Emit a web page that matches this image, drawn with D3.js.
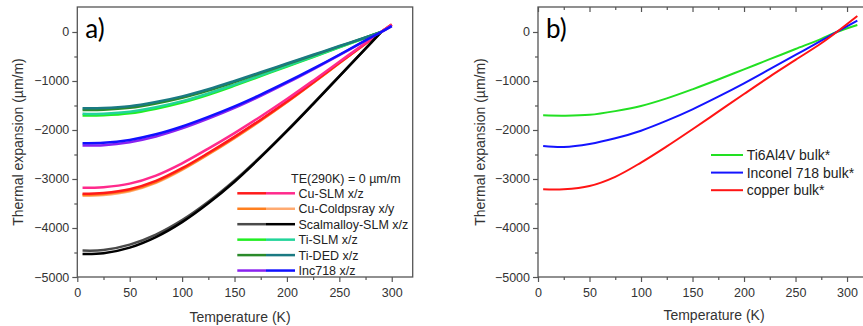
<!DOCTYPE html>
<html>
<head>
<meta charset="utf-8">
<script src="https://cdn.jsdelivr.net/npm/d3@7"></script>
<style>
  body { margin: 0; background: #fff; }
  svg { display: block; font-family: "Liberation Sans", Arial, sans-serif; }
</style>
</head>
<body>
<svg id="chart" width="863" height="326"></svg>
<script>
// panel a: measured samples (two directions per material)
const tempA = [5, 25, 50, 75, 100, 125, 150, 175, 200, 225, 250, 275, 290, 300];
const cuSlm1 = [-3300, -3285, -3210, -3040, -2780, -2470, -2140, -1790, -1420, -1030, -630, -235, 0, 150];
const cuSlm2 = [-3180, -3166, -3095, -2930, -2680, -2380, -2063, -1725, -1369, -993, -607, -226, 0, 145];
const cuCs1 = [-3320, -3305, -3232, -3062, -2800, -2488, -2155, -1802, -1430, -1037, -634, -237, 0, 150];
const cuCs2 = [-3340, -3325, -3250, -3078, -2814, -2500, -2165, -1810, -1436, -1041, -637, -238, 0, 152];
const scal1 = [-4460, -4450, -4340, -4135, -3840, -3465, -3030, -2540, -2012, -1462, -900, -338, 0];
const scal2 = [-4530, -4515, -4400, -4185, -3880, -3495, -3055, -2555, -2025, -1470, -905, -340, 0];
const tiSlm1 = [-1705, -1700, -1660, -1565, -1440, -1280, -1095, -900, -705, -510, -315, -120, 0];
const tiSlm2 = [-1671, -1666, -1627, -1534, -1411, -1254, -1073, -882, -691, -500, -309, -118, 0];
const tiDed1 = [-1590, -1586, -1548, -1460, -1343, -1194, -1021, -839, -657, -476, -294, -112, 0];
const tiDed2 = [-1556, -1552, -1515, -1428, -1314, -1168, -999, -821, -643, -465, -287, -110, 0];
const inc1 = [-2317, -2310, -2248, -2132, -1968, -1769, -1549, -1304, -1041, -763, -473, -173, 0, 125];
const inc2 = [-2269, -2262, -2202, -2088, -1928, -1733, -1518, -1278, -1020, -748, -464, -170, 0, 120];

const legendA = ["Cu-SLM x/z", "Cu-Coldpsray x/y", "Scalmalloy-SLM x/z", "Ti-SLM x/z", "Ti-DED x/z", "Inc718 x/z"];

// panel b: bulk reference curves
const tempB = [5, 25, 50, 75, 100, 125, 150, 175, 200, 225, 250, 275, 290, 310];
const ti64 = [-1700, -1707, -1690, -1615, -1510, -1355, -1170, -970, -762, -555, -347, -140, 0, 143];
const in718 = [-2327, -2347, -2286, -2170, -2014, -1810, -1578, -1320, -1048, -760, -469, -175, 0, 231];
const copper = [-3211, -3210, -3143, -2955, -2665, -2335, -1985, -1625, -1265, -910, -570, -230, 0, 327];

const legendB = ["Ti6Al4V bulk*", "Inconel 718 bulk*", "copper bulk*"];

const yTicks = [0, -1000, -2000, -3000, -4000, -5000];
const xTicks = [0, 50, 100, 150, 200, 250, 300];

const svg = d3.select("#chart");
const axisColor = "#555";

function pts(t, v) {
  return v.map((d, i) => [t[i], d]);
}

function drawPanel(opt) {
  const x = d3.scaleLinear().domain(opt.xDomain).range(opt.xRange);
  const y = d3.scaleLinear().domain([-5000, 510]).range([277, 7]);
  const g = svg.append("g");

  // frame
  g.append("rect")
    .attr("x", opt.xRange[0]).attr("y", 7)
    .attr("width", opt.xRange[1] - opt.xRange[0]).attr("height", 270)
    .attr("fill", "none").attr("stroke", axisColor).attr("stroke-width", 1.3);

  // curves
  const line = d3.line().x((d) => x(d[0])).y((d) => y(d[1])).curve(d3.curveCatmullRom.alpha(0.5));
  opt.series.forEach((s) => {
    g.append("path")
      .attr("d", line(pts(s.t, s.v)))
      .attr("fill", "none")
      .attr("stroke", s.color)
      .attr("stroke-width", opt.lw);
  });

  // left axis
  g.append("g").attr("transform", `translate(${opt.xRange[0]},0)`)
    .call(d3.axisLeft(y).tickValues(yTicks).tickSize(5).tickPadding(3).tickFormat(d3.format("d")));
  g.append("g").attr("transform", `translate(${opt.xRange[0]},0)`)
    .call(d3.axisLeft(y).tickValues(d3.range(-4500, 500, 1000)).tickSize(3).tickFormat(""));

  // bottom axis
  g.append("g").attr("transform", "translate(0,277)")
    .call(d3.axisBottom(x).tickValues(xTicks).tickSize(5).tickPadding(6));
  g.append("g").attr("transform", "translate(0,277)")
    .call(d3.axisBottom(x).tickValues(d3.range(25, opt.xDomain[1], 50)).tickSize(3).tickFormat(""));

  if (opt.topTicks) {
    g.append("g").attr("transform", "translate(0,7)")
      .call(d3.axisBottom(x).tickValues(xTicks).tickSize(5).tickFormat(""));
    g.append("g").attr("transform", "translate(0,7)")
      .call(d3.axisBottom(x).tickValues(d3.range(25, opt.xDomain[1], 50)).tickSize(3).tickFormat(""));
  }

  g.selectAll(".domain").remove();
  g.selectAll(".tick line").attr("stroke", axisColor).attr("stroke-width", 1.2);
  g.selectAll(".tick text").attr("fill", "#333").style("font-size", "12.5px")
    .style("font-family", '"Liberation Sans", Arial, sans-serif');

  // titles
  g.append("text")
    .attr("transform", `translate(${opt.yTitleX},${142}) rotate(-90)`)
    .attr("text-anchor", "middle").attr("fill", "#333").style("font-size", "14px")
    .text("Thermal expansion (µm/m)");
  g.append("text")
    .attr("x", opt.xTitleX).attr("y", opt.xTitleY)
    .attr("text-anchor", "middle").attr("fill", "#333").style("font-size", "14px")
    .text("Temperature (K)");

  g.append("text")
    .attr("x", opt.xRange[0] + 8).attr("y", 38)
    .attr("fill", "#000").style("font-family", "Lato, 'Open Sans', sans-serif").style("font-size", "26px")
    .text(opt.tag);

  return { g, x, y };
}

// panel a
const colA = [
  ["#ff1a1a", "#ff2a8c"],
  ["#ff7f1e", "#ffaa70"],
  ["#4a4a4a", "#000000"],
  ["#22ee22", "#22d49a"],
  ["#2a8a2a", "#1a7a82"],
  ["#8a22f0", "#1010ff"],
];
const seriesA = [
  { t: tempA, v: cuCs2, color: colA[1][1] },
  { t: tempA, v: cuCs1, color: colA[1][0] },
  { t: tempA, v: cuSlm1, color: colA[0][0] },
  { t: tempA, v: cuSlm2, color: colA[0][1] },
  { t: tempA, v: scal1, color: colA[2][0] },
  { t: tempA, v: scal2, color: colA[2][1] },
  { t: tempA, v: tiSlm1, color: colA[3][0] },
  { t: tempA, v: tiSlm2, color: colA[3][1] },
  { t: tempA, v: tiDed1, color: colA[4][0] },
  { t: tempA, v: tiDed2, color: colA[4][1] },
  { t: tempA, v: inc1, color: colA[5][0] },
  { t: tempA, v: inc2, color: colA[5][1] },
];

const pa = drawPanel({
  xDomain: [0, 320], xRange: [77.3, 412.7], series: seriesA, lw: 2.5,
  topTicks: false, yTitleX: 23, xTitleX: 240, xTitleY: 322, tag: "a)",
});

const legA = pa.g.append("g");
legA.append("text").attr("x", 291).attr("y", 182.5)
  .style("font-size", "12.5px").attr("fill", "#222").text("TE(290K) = 0 µm/m");
legendA.forEach((name, i) => {
  const yy = 193.3 + i * 15.45;
  legA.append("line").attr("x1", 237.3).attr("x2", 266).attr("y1", yy).attr("y2", yy)
    .attr("stroke", colA[i][0]).attr("stroke-width", 2.5);
  legA.append("line").attr("x1", 266).attr("x2", 295).attr("y1", yy).attr("y2", yy)
    .attr("stroke", colA[i][1]).attr("stroke-width", 2.5);
  legA.append("text").attr("x", 298.5).attr("y", yy + 4.5)
    .style("font-size", "12.5px").attr("fill", "#222").text(name);
});

// panel b
const colB = ["#22e022", "#1414ff", "#ff1414"];
const seriesB = [
  { t: tempB, v: ti64, color: colB[0] },
  { t: tempB, v: in718, color: colB[1] },
  { t: tempB, v: copper, color: colB[2] },
];
const pb = drawPanel({
  xDomain: [0, 342], xRange: [538, 890.3], series: seriesB, lw: 2,
  topTicks: true, yTitleX: 485, xTitleX: 714, xTitleY: 320, tag: "b)",
});

const legB = pb.g.append("g");
legendB.forEach((name, i) => {
  const yy = 155 + i * 17.6;
  legB.append("line").attr("x1", 711).attr("x2", 743).attr("y1", yy).attr("y2", yy)
    .attr("stroke", colB[i]).attr("stroke-width", 2);
  legB.append("text").attr("x", 746.7).attr("y", yy + 5)
    .style("font-size", "14px").attr("fill", "#222").text(name);
});
</script>
</body>
</html>
